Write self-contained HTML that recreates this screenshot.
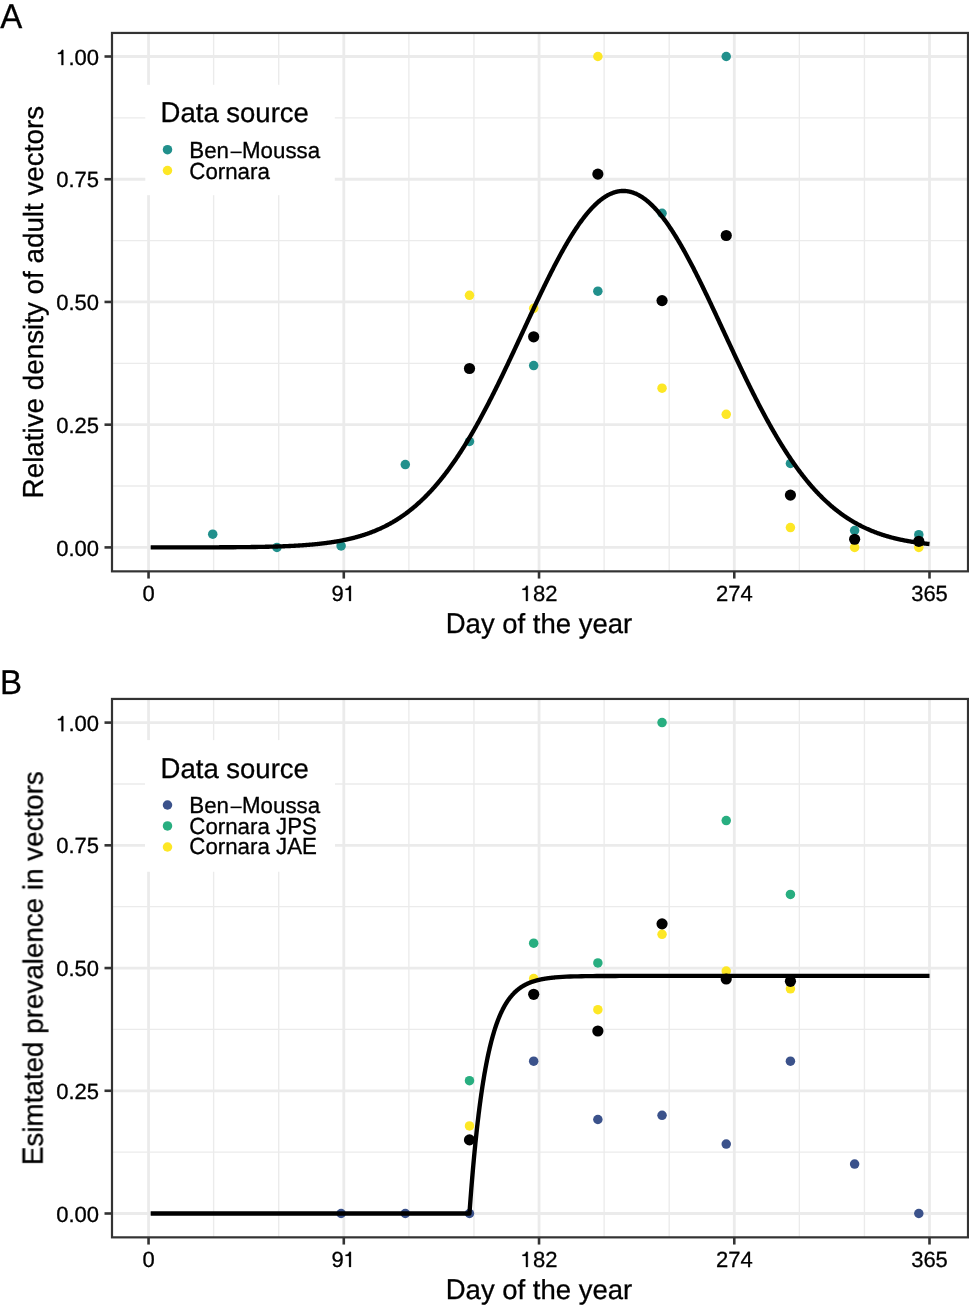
<!DOCTYPE html>
<html><head><meta charset="utf-8"><style>
html,body{margin:0;padding:0;background:#fff;}
svg{display:block;}
text{font-family:"Liberation Sans", sans-serif;fill:#000;text-rendering:geometricPrecision;font-kerning:none;stroke:#000;stroke-width:0.3px;}
</style></head><body>
<svg width="969" height="1312" viewBox="0 0 969 1312">
<defs><filter id="gs" x="0" y="0" width="969" height="1312" filterUnits="userSpaceOnUse"><feOffset dx="0" dy="0"/></filter></defs>
<rect width="969" height="1312" fill="#fff"/>
<g>
<line x1="213.63" y1="32.95" x2="213.63" y2="571.35" stroke="#ebebeb" stroke-width="1.35"/>
<line x1="278.71" y1="32.95" x2="278.71" y2="571.35" stroke="#ebebeb" stroke-width="1.35"/>
<line x1="408.87" y1="32.95" x2="408.87" y2="571.35" stroke="#ebebeb" stroke-width="1.35"/>
<line x1="473.95" y1="32.95" x2="473.95" y2="571.35" stroke="#ebebeb" stroke-width="1.35"/>
<line x1="604.11" y1="32.95" x2="604.11" y2="571.35" stroke="#ebebeb" stroke-width="1.35"/>
<line x1="669.19" y1="32.95" x2="669.19" y2="571.35" stroke="#ebebeb" stroke-width="1.35"/>
<line x1="799.35" y1="32.95" x2="799.35" y2="571.35" stroke="#ebebeb" stroke-width="1.35"/>
<line x1="864.42" y1="32.95" x2="864.42" y2="571.35" stroke="#ebebeb" stroke-width="1.35"/>
<line x1="112.0" y1="486.04" x2="968.0" y2="486.04" stroke="#ebebeb" stroke-width="1.35"/>
<line x1="112.0" y1="363.31" x2="968.0" y2="363.31" stroke="#ebebeb" stroke-width="1.35"/>
<line x1="112.0" y1="240.59" x2="968.0" y2="240.59" stroke="#ebebeb" stroke-width="1.35"/>
<line x1="112.0" y1="117.86" x2="968.0" y2="117.86" stroke="#ebebeb" stroke-width="1.35"/>
<line x1="148.55" y1="32.95" x2="148.55" y2="571.35" stroke="#ebebeb" stroke-width="2.8"/>
<line x1="343.79" y1="32.95" x2="343.79" y2="571.35" stroke="#ebebeb" stroke-width="2.8"/>
<line x1="539.03" y1="32.95" x2="539.03" y2="571.35" stroke="#ebebeb" stroke-width="2.8"/>
<line x1="734.27" y1="32.95" x2="734.27" y2="571.35" stroke="#ebebeb" stroke-width="2.8"/>
<line x1="929.50" y1="32.95" x2="929.50" y2="571.35" stroke="#ebebeb" stroke-width="2.8"/>
<line x1="112.0" y1="547.40" x2="968.0" y2="547.40" stroke="#ebebeb" stroke-width="2.8"/>
<line x1="112.0" y1="424.67" x2="968.0" y2="424.67" stroke="#ebebeb" stroke-width="2.8"/>
<line x1="112.0" y1="301.95" x2="968.0" y2="301.95" stroke="#ebebeb" stroke-width="2.8"/>
<line x1="112.0" y1="179.23" x2="968.0" y2="179.23" stroke="#ebebeb" stroke-width="2.8"/>
<line x1="112.0" y1="56.50" x2="968.0" y2="56.50" stroke="#ebebeb" stroke-width="2.8"/>
<circle cx="212.74" cy="534.15" r="4.75" fill="#21908c"/>
<circle cx="276.93" cy="547.40" r="4.75" fill="#21908c"/>
<circle cx="341.11" cy="545.93" r="4.75" fill="#21908c"/>
<circle cx="405.30" cy="464.59" r="4.75" fill="#21908c"/>
<circle cx="469.49" cy="441.51" r="4.75" fill="#21908c"/>
<circle cx="533.68" cy="365.52" r="4.75" fill="#21908c"/>
<circle cx="597.87" cy="291.20" r="4.75" fill="#21908c"/>
<circle cx="662.05" cy="213.29" r="4.75" fill="#21908c"/>
<circle cx="726.24" cy="56.50" r="4.75" fill="#21908c"/>
<circle cx="790.43" cy="463.51" r="4.75" fill="#21908c"/>
<circle cx="854.62" cy="530.51" r="4.75" fill="#21908c"/>
<circle cx="918.81" cy="534.64" r="4.75" fill="#21908c"/>
<circle cx="469.49" cy="295.32" r="4.75" fill="#fde725"/>
<circle cx="533.68" cy="308.33" r="4.75" fill="#fde725"/>
<circle cx="597.87" cy="56.50" r="4.75" fill="#fde725"/>
<circle cx="662.05" cy="388.20" r="4.75" fill="#fde725"/>
<circle cx="726.24" cy="414.32" r="4.75" fill="#fde725"/>
<circle cx="790.43" cy="527.52" r="4.75" fill="#fde725"/>
<circle cx="854.62" cy="547.40" r="4.75" fill="#fde725"/>
<circle cx="918.81" cy="547.40" r="4.75" fill="#fde725"/>
<path d="M150.69,547.39 L151.22,547.39 L151.76,547.39 L152.29,547.39 L152.82,547.39 L153.36,547.39 L153.89,547.39 L154.42,547.39 L154.96,547.39 L155.49,547.39 L156.02,547.39 L156.56,547.39 L157.09,547.39 L157.62,547.39 L158.16,547.39 L158.69,547.39 L159.22,547.39 L159.76,547.39 L160.29,547.39 L160.82,547.39 L161.36,547.39 L161.89,547.39 L162.43,547.39 L162.96,547.39 L163.49,547.39 L164.03,547.39 L164.56,547.39 L165.09,547.39 L165.63,547.39 L166.16,547.39 L166.69,547.39 L167.23,547.39 L167.76,547.39 L168.29,547.39 L168.83,547.39 L169.36,547.39 L169.89,547.39 L170.43,547.39 L170.96,547.39 L171.49,547.39 L172.03,547.39 L172.56,547.39 L173.09,547.39 L173.63,547.38 L174.16,547.38 L174.69,547.38 L175.23,547.38 L175.76,547.38 L176.29,547.38 L176.83,547.38 L177.36,547.38 L177.89,547.38 L178.43,547.38 L178.96,547.38 L179.50,547.38 L180.03,547.38 L180.56,547.38 L181.10,547.38 L181.63,547.38 L182.16,547.38 L182.70,547.38 L183.23,547.38 L183.76,547.38 L184.30,547.38 L184.83,547.38 L185.36,547.37 L185.90,547.37 L186.43,547.37 L186.96,547.37 L187.50,547.37 L188.03,547.37 L188.56,547.37 L189.10,547.37 L189.63,547.37 L190.16,547.37 L190.70,547.37 L191.23,547.37 L191.76,547.37 L192.30,547.37 L192.83,547.36 L193.36,547.36 L193.90,547.36 L194.43,547.36 L194.96,547.36 L195.50,547.36 L196.03,547.36 L196.56,547.36 L197.10,547.36 L197.63,547.36 L198.17,547.36 L198.70,547.35 L199.23,547.35 L199.77,547.35 L200.30,547.35 L200.83,547.35 L201.37,547.35 L201.90,547.35 L202.43,547.35 L202.97,547.35 L203.50,547.34 L204.03,547.34 L204.57,547.34 L205.10,547.34 L205.63,547.34 L206.17,547.34 L206.70,547.34 L207.23,547.34 L207.77,547.33 L208.30,547.33 L208.83,547.33 L209.37,547.33 L209.90,547.33 L210.43,547.33 L210.97,547.32 L211.50,547.32 L212.03,547.32 L212.57,547.32 L213.10,547.32 L213.63,547.32 L214.17,547.31 L214.70,547.31 L215.24,547.31 L215.77,547.31 L216.30,547.31 L216.84,547.30 L217.37,547.30 L217.90,547.30 L218.44,547.30 L218.97,547.30 L219.50,547.29 L220.04,547.29 L220.57,547.29 L221.10,547.29 L221.64,547.28 L222.17,547.28 L222.70,547.28 L223.24,547.28 L223.77,547.27 L224.30,547.27 L224.84,547.27 L225.37,547.27 L225.90,547.26 L226.44,547.26 L226.97,547.26 L227.50,547.25 L228.04,547.25 L228.57,547.25 L229.10,547.24 L229.64,547.24 L230.17,547.24 L230.70,547.23 L231.24,547.23 L231.77,547.23 L232.31,547.22 L232.84,547.22 L233.37,547.22 L233.91,547.21 L234.44,547.21 L234.97,547.20 L235.51,547.20 L236.04,547.20 L236.57,547.19 L237.11,547.19 L237.64,547.18 L238.17,547.18 L238.71,547.17 L239.24,547.17 L239.77,547.16 L240.31,547.16 L240.84,547.15 L241.37,547.15 L241.91,547.14 L242.44,547.14 L242.97,547.13 L243.51,547.13 L244.04,547.12 L244.57,547.12 L245.11,547.11 L245.64,547.11 L246.17,547.10 L246.71,547.09 L247.24,547.09 L247.77,547.08 L248.31,547.07 L248.84,547.07 L249.37,547.06 L249.91,547.05 L250.44,547.05 L250.98,547.04 L251.51,547.03 L252.04,547.03 L252.58,547.02 L253.11,547.01 L253.64,547.00 L254.18,547.00 L254.71,546.99 L255.24,546.98 L255.78,546.97 L256.31,546.96 L256.84,546.95 L257.38,546.95 L257.91,546.94 L258.44,546.93 L258.98,546.92 L259.51,546.91 L260.04,546.90 L260.58,546.89 L261.11,546.88 L261.64,546.87 L262.18,546.86 L262.71,546.85 L263.24,546.84 L263.78,546.83 L264.31,546.82 L264.84,546.80 L265.38,546.79 L265.91,546.78 L266.44,546.77 L266.98,546.76 L267.51,546.75 L268.05,546.73 L268.58,546.72 L269.11,546.71 L269.65,546.69 L270.18,546.68 L270.71,546.67 L271.25,546.65 L271.78,546.64 L272.31,546.62 L272.85,546.61 L273.38,546.60 L273.91,546.58 L274.45,546.57 L274.98,546.55 L275.51,546.53 L276.05,546.52 L276.58,546.50 L277.11,546.48 L277.65,546.47 L278.18,546.45 L278.71,546.43 L279.25,546.41 L279.78,546.40 L280.31,546.38 L280.85,546.36 L281.38,546.34 L281.91,546.32 L282.45,546.30 L282.98,546.28 L283.51,546.26 L284.05,546.24 L284.58,546.22 L285.12,546.20 L285.65,546.18 L286.18,546.15 L286.72,546.13 L287.25,546.11 L287.78,546.09 L288.32,546.06 L288.85,546.04 L289.38,546.01 L289.92,545.99 L290.45,545.96 L290.98,545.94 L291.52,545.91 L292.05,545.89 L292.58,545.86 L293.12,545.83 L293.65,545.80 L294.18,545.78 L294.72,545.75 L295.25,545.72 L295.78,545.69 L296.32,545.66 L296.85,545.63 L297.38,545.60 L297.92,545.57 L298.45,545.53 L298.98,545.50 L299.52,545.47 L300.05,545.43 L300.58,545.40 L301.12,545.37 L301.65,545.33 L302.19,545.30 L302.72,545.26 L303.25,545.22 L303.79,545.18 L304.32,545.15 L304.85,545.11 L305.39,545.07 L305.92,545.03 L306.45,544.99 L306.99,544.95 L307.52,544.91 L308.05,544.87 L308.59,544.82 L309.12,544.78 L309.65,544.74 L310.19,544.69 L310.72,544.65 L311.25,544.60 L311.79,544.55 L312.32,544.50 L312.85,544.46 L313.39,544.41 L313.92,544.36 L314.45,544.31 L314.99,544.26 L315.52,544.20 L316.05,544.15 L316.59,544.10 L317.12,544.04 L317.65,543.99 L318.19,543.93 L318.72,543.88 L319.25,543.82 L319.79,543.76 L320.32,543.70 L320.86,543.64 L321.39,543.58 L321.92,543.52 L322.46,543.46 L322.99,543.39 L323.52,543.33 L324.06,543.27 L324.59,543.20 L325.12,543.13 L325.66,543.06 L326.19,542.99 L326.72,542.92 L327.26,542.85 L327.79,542.78 L328.32,542.71 L328.86,542.64 L329.39,542.56 L329.92,542.48 L330.46,542.41 L330.99,542.33 L331.52,542.25 L332.06,542.17 L332.59,542.09 L333.12,542.01 L333.66,541.92 L334.19,541.84 L334.72,541.75 L335.26,541.66 L335.79,541.58 L336.32,541.49 L336.86,541.39 L337.39,541.30 L337.93,541.21 L338.46,541.12 L338.99,541.02 L339.53,540.92 L340.06,540.82 L340.59,540.73 L341.13,540.62 L341.66,540.52 L342.19,540.42 L342.73,540.31 L343.26,540.21 L343.79,540.10 L344.33,539.99 L344.86,539.88 L345.39,539.77 L345.93,539.66 L346.46,539.54 L346.99,539.42 L347.53,539.31 L348.06,539.19 L348.59,539.07 L349.13,538.94 L349.66,538.82 L350.19,538.69 L350.73,538.57 L351.26,538.44 L351.79,538.31 L352.33,538.18 L352.86,538.04 L353.39,537.91 L353.93,537.77 L354.46,537.63 L355.00,537.49 L355.53,537.35 L356.06,537.21 L356.60,537.06 L357.13,536.91 L357.66,536.76 L358.20,536.61 L358.73,536.46 L359.26,536.31 L359.80,536.15 L360.33,535.99 L360.86,535.83 L361.40,535.67 L361.93,535.51 L362.46,535.34 L363.00,535.17 L363.53,535.00 L364.06,534.83 L364.60,534.66 L365.13,534.48 L365.66,534.30 L366.20,534.12 L366.73,533.94 L367.26,533.75 L367.80,533.57 L368.33,533.38 L368.86,533.19 L369.40,532.99 L369.93,532.80 L370.46,532.60 L371.00,532.40 L371.53,532.20 L372.06,532.00 L372.60,531.79 L373.13,531.58 L373.67,531.37 L374.20,531.16 L374.73,530.94 L375.27,530.72 L375.80,530.50 L376.33,530.28 L376.87,530.05 L377.40,529.82 L377.93,529.59 L378.47,529.36 L379.00,529.12 L379.53,528.88 L380.07,528.64 L380.60,528.40 L381.13,528.15 L381.67,527.90 L382.20,527.65 L382.73,527.40 L383.27,527.14 L383.80,526.88 L384.33,526.62 L384.87,526.36 L385.40,526.09 L385.93,525.82 L386.47,525.54 L387.00,525.27 L387.53,524.99 L388.07,524.71 L388.60,524.42 L389.13,524.13 L389.67,523.84 L390.20,523.55 L390.74,523.25 L391.27,522.95 L391.80,522.65 L392.34,522.34 L392.87,522.04 L393.40,521.72 L393.94,521.41 L394.47,521.09 L395.00,520.77 L395.54,520.45 L396.07,520.12 L396.60,519.79 L397.14,519.45 L397.67,519.12 L398.20,518.78 L398.74,518.43 L399.27,518.08 L399.80,517.73 L400.34,517.38 L400.87,517.02 L401.40,516.66 L401.94,516.30 L402.47,515.93 L403.00,515.56 L403.54,515.19 L404.07,514.81 L404.60,514.43 L405.14,514.04 L405.67,513.66 L406.20,513.26 L406.74,512.87 L407.27,512.47 L407.81,512.07 L408.34,511.66 L408.87,511.25 L409.41,510.84 L409.94,510.42 L410.47,510.00 L411.01,509.58 L411.54,509.15 L412.07,508.72 L412.61,508.28 L413.14,507.84 L413.67,507.40 L414.21,506.95 L414.74,506.50 L415.27,506.04 L415.81,505.59 L416.34,505.12 L416.87,504.66 L417.41,504.19 L417.94,503.71 L418.47,503.23 L419.01,502.75 L419.54,502.26 L420.07,501.77 L420.61,501.28 L421.14,500.78 L421.67,500.28 L422.21,499.77 L422.74,499.26 L423.27,498.75 L423.81,498.23 L424.34,497.71 L424.87,497.18 L425.41,496.65 L425.94,496.11 L426.48,495.57 L427.01,495.03 L427.54,494.48 L428.08,493.93 L428.61,493.37 L429.14,492.81 L429.68,492.25 L430.21,491.68 L430.74,491.10 L431.28,490.53 L431.81,489.94 L432.34,489.36 L432.88,488.77 L433.41,488.17 L433.94,487.57 L434.48,486.97 L435.01,486.36 L435.54,485.75 L436.08,485.13 L436.61,484.51 L437.14,483.89 L437.68,483.26 L438.21,482.62 L438.74,481.98 L439.28,481.34 L439.81,480.69 L440.34,480.04 L440.88,479.38 L441.41,478.72 L441.94,478.06 L442.48,477.39 L443.01,476.71 L443.55,476.03 L444.08,475.35 L444.61,474.66 L445.15,473.97 L445.68,473.27 L446.21,472.57 L446.75,471.87 L447.28,471.16 L447.81,470.44 L448.35,469.72 L448.88,469.00 L449.41,468.27 L449.95,467.54 L450.48,466.80 L451.01,466.06 L451.55,465.31 L452.08,464.56 L452.61,463.80 L453.15,463.04 L453.68,462.28 L454.21,461.51 L454.75,460.74 L455.28,459.96 L455.81,459.18 L456.35,458.39 L456.88,457.60 L457.41,456.80 L457.95,456.00 L458.48,455.20 L459.01,454.39 L459.55,453.58 L460.08,452.76 L460.62,451.94 L461.15,451.11 L461.68,450.28 L462.22,449.44 L462.75,448.60 L463.28,447.76 L463.82,446.91 L464.35,446.06 L464.88,445.20 L465.42,444.34 L465.95,443.47 L466.48,442.60 L467.02,441.73 L467.55,440.85 L468.08,439.96 L468.62,439.08 L469.15,438.18 L469.68,437.29 L470.22,436.39 L470.75,435.48 L471.28,434.57 L471.82,433.66 L472.35,432.74 L472.88,431.82 L473.42,430.90 L473.95,429.97 L474.48,429.04 L475.02,428.10 L475.55,427.16 L476.08,426.21 L476.62,425.26 L477.15,424.31 L477.68,423.35 L478.22,422.39 L478.75,421.43 L479.29,420.46 L479.82,419.48 L480.35,418.51 L480.89,417.53 L481.42,416.54 L481.95,415.56 L482.49,414.57 L483.02,413.57 L483.55,412.57 L484.09,411.57 L484.62,410.56 L485.15,409.55 L485.69,408.54 L486.22,407.52 L486.75,406.50 L487.29,405.48 L487.82,404.45 L488.35,403.42 L488.89,402.39 L489.42,401.35 L489.95,400.32 L490.49,399.27 L491.02,398.23 L491.55,397.18 L492.09,396.12 L492.62,395.07 L493.15,394.01 L493.69,392.95 L494.22,391.88 L494.75,390.82 L495.29,389.75 L495.82,388.67 L496.36,387.60 L496.89,386.52 L497.42,385.44 L497.96,384.35 L498.49,383.27 L499.02,382.18 L499.56,381.09 L500.09,379.99 L500.62,378.90 L501.16,377.80 L501.69,376.70 L502.22,375.59 L502.76,374.49 L503.29,373.38 L503.82,372.27 L504.36,371.16 L504.89,370.04 L505.42,368.93 L505.96,367.81 L506.49,366.69 L507.02,365.57 L507.56,364.44 L508.09,363.32 L508.62,362.19 L509.16,361.06 L509.69,359.93 L510.22,358.80 L510.76,357.67 L511.29,356.53 L511.82,355.40 L512.36,354.26 L512.89,353.12 L513.43,351.98 L513.96,350.84 L514.49,349.70 L515.03,348.56 L515.56,347.41 L516.09,346.27 L516.63,345.12 L517.16,343.98 L517.69,342.83 L518.23,341.68 L518.76,340.53 L519.29,339.39 L519.83,338.24 L520.36,337.09 L520.89,335.94 L521.43,334.79 L521.96,333.64 L522.49,332.49 L523.03,331.34 L523.56,330.19 L524.09,329.04 L524.63,327.89 L525.16,326.73 L525.69,325.59 L526.23,324.44 L526.76,323.29 L527.29,322.14 L527.83,320.99 L528.36,319.84 L528.89,318.70 L529.43,317.55 L529.96,316.40 L530.49,315.26 L531.03,314.12 L531.56,312.97 L532.10,311.83 L532.63,310.69 L533.16,309.55 L533.70,308.41 L534.23,307.28 L534.76,306.14 L535.30,305.01 L535.83,303.88 L536.36,302.75 L536.90,301.62 L537.43,300.49 L537.96,299.37 L538.50,298.24 L539.03,297.12 L539.56,296.00 L540.10,294.89 L540.63,293.77 L541.16,292.66 L541.70,291.55 L542.23,290.44 L542.76,289.34 L543.30,288.23 L543.83,287.13 L544.36,286.04 L544.90,284.94 L545.43,283.85 L545.96,282.76 L546.50,281.68 L547.03,280.60 L547.56,279.52 L548.10,278.44 L548.63,277.37 L549.17,276.30 L549.70,275.23 L550.23,274.17 L550.77,273.11 L551.30,272.06 L551.83,271.01 L552.37,269.96 L552.90,268.92 L553.43,267.88 L553.97,266.84 L554.50,265.81 L555.03,264.79 L555.57,263.76 L556.10,262.74 L556.63,261.73 L557.17,260.72 L557.70,259.72 L558.23,258.72 L558.77,257.72 L559.30,256.73 L559.83,255.75 L560.37,254.77 L560.90,253.79 L561.43,252.82 L561.97,251.85 L562.50,250.89 L563.03,249.94 L563.57,248.99 L564.10,248.05 L564.63,247.11 L565.17,246.17 L565.70,245.25 L566.24,244.33 L566.77,243.41 L567.30,242.50 L567.84,241.60 L568.37,240.70 L568.90,239.81 L569.44,238.92 L569.97,238.04 L570.50,237.17 L571.04,236.30 L571.57,235.44 L572.10,234.59 L572.64,233.74 L573.17,232.90 L573.70,232.07 L574.24,231.24 L574.77,230.42 L575.30,229.60 L575.84,228.80 L576.37,228.00 L576.90,227.20 L577.44,226.42 L577.97,225.64 L578.50,224.87 L579.04,224.11 L579.57,223.35 L580.10,222.60 L580.64,221.86 L581.17,221.12 L581.70,220.40 L582.24,219.68 L582.77,218.97 L583.30,218.27 L583.84,217.57 L584.37,216.88 L584.91,216.20 L585.44,215.53 L585.97,214.87 L586.51,214.21 L587.04,213.57 L587.57,212.93 L588.11,212.30 L588.64,211.67 L589.17,211.06 L589.71,210.45 L590.24,209.86 L590.77,209.27 L591.31,208.69 L591.84,208.12 L592.37,207.55 L592.91,207.00 L593.44,206.45 L593.97,205.92 L594.51,205.39 L595.04,204.87 L595.57,204.36 L596.11,203.86 L596.64,203.37 L597.17,202.88 L597.71,202.41 L598.24,201.95 L598.77,201.49 L599.31,201.04 L599.84,200.61 L600.37,200.18 L600.91,199.76 L601.44,199.35 L601.98,198.95 L602.51,198.56 L603.04,198.18 L603.58,197.81 L604.11,197.45 L604.64,197.10 L605.18,196.75 L605.71,196.42 L606.24,196.10 L606.78,195.78 L607.31,195.48 L607.84,195.18 L608.38,194.90 L608.91,194.63 L609.44,194.36 L609.98,194.10 L610.51,193.86 L611.04,193.62 L611.58,193.40 L612.11,193.18 L612.64,192.98 L613.18,192.78 L613.71,192.59 L614.24,192.42 L614.78,192.25 L615.31,192.10 L615.84,191.95 L616.38,191.81 L616.91,191.69 L617.44,191.57 L617.98,191.46 L618.51,191.37 L619.05,191.28 L619.58,191.21 L620.11,191.14 L620.65,191.09 L621.18,191.04 L621.71,191.00 L622.25,190.98 L622.78,190.96 L623.31,190.96 L623.85,190.96 L624.38,190.98 L624.91,191.00 L625.45,191.04 L625.98,191.08 L626.51,191.14 L627.05,191.20 L627.58,191.28 L628.11,191.36 L628.65,191.46 L629.18,191.56 L629.71,191.68 L630.25,191.81 L630.78,191.94 L631.31,192.09 L631.85,192.24 L632.38,192.41 L632.91,192.58 L633.45,192.77 L633.98,192.97 L634.51,193.17 L635.05,193.39 L635.58,193.61 L636.12,193.85 L636.65,194.09 L637.18,194.35 L637.72,194.61 L638.25,194.88 L638.78,195.17 L639.32,195.46 L639.85,195.77 L640.38,196.08 L640.92,196.40 L641.45,196.74 L641.98,197.08 L642.52,197.43 L643.05,197.79 L643.58,198.16 L644.12,198.54 L644.65,198.93 L645.18,199.33 L645.72,199.74 L646.25,200.16 L646.78,200.58 L647.32,201.02 L647.85,201.47 L648.38,201.92 L648.92,202.39 L649.45,202.86 L649.98,203.34 L650.52,203.83 L651.05,204.33 L651.58,204.84 L652.12,205.36 L652.65,205.89 L653.18,206.42 L653.72,206.97 L654.25,207.52 L654.79,208.08 L655.32,208.66 L655.85,209.24 L656.39,209.82 L656.92,210.42 L657.45,211.03 L657.99,211.64 L658.52,212.26 L659.05,212.89 L659.59,213.53 L660.12,214.18 L660.65,214.83 L661.19,215.49 L661.72,216.17 L662.25,216.84 L662.79,217.53 L663.32,218.23 L663.85,218.93 L664.39,219.64 L664.92,220.36 L665.45,221.08 L665.99,221.82 L666.52,222.56 L667.05,223.31 L667.59,224.06 L668.12,224.83 L668.65,225.60 L669.19,226.38 L669.72,227.16 L670.25,227.95 L670.79,228.75 L671.32,229.56 L671.86,230.37 L672.39,231.19 L672.92,232.02 L673.46,232.85 L673.99,233.69 L674.52,234.54 L675.06,235.39 L675.59,236.25 L676.12,237.12 L676.66,237.99 L677.19,238.87 L677.72,239.76 L678.26,240.65 L678.79,241.55 L679.32,242.45 L679.86,243.36 L680.39,244.28 L680.92,245.20 L681.46,246.12 L681.99,247.06 L682.52,247.99 L683.06,248.94 L683.59,249.89 L684.12,250.84 L684.66,251.80 L685.19,252.77 L685.72,253.74 L686.26,254.71 L686.79,255.69 L687.32,256.68 L687.86,257.67 L688.39,258.66 L688.93,259.66 L689.46,260.67 L689.99,261.68 L690.53,262.69 L691.06,263.71 L691.59,264.73 L692.13,265.76 L692.66,266.79 L693.19,267.82 L693.73,268.86 L694.26,269.90 L694.79,270.95 L695.33,272.00 L695.86,273.06 L696.39,274.11 L696.93,275.18 L697.46,276.24 L697.99,277.31 L698.53,278.38 L699.06,279.46 L699.59,280.54 L700.13,281.62 L700.66,282.70 L701.19,283.79 L701.73,284.88 L702.26,285.98 L702.79,287.07 L703.33,288.17 L703.86,289.28 L704.39,290.38 L704.93,291.49 L705.46,292.60 L705.99,293.71 L706.53,294.82 L707.06,295.94 L707.60,297.06 L708.13,298.18 L708.66,299.30 L709.20,300.43 L709.73,301.56 L710.26,302.68 L710.80,303.81 L711.33,304.95 L711.86,306.08 L712.40,307.22 L712.93,308.35 L713.46,309.49 L714.00,310.63 L714.53,311.77 L715.06,312.91 L715.60,314.05 L716.13,315.20 L716.66,316.34 L717.20,317.49 L717.73,318.63 L718.26,319.78 L718.80,320.93 L719.33,322.07 L719.86,323.22 L720.40,324.37 L720.93,325.52 L721.46,326.67 L722.00,327.82 L722.53,328.97 L723.06,330.12 L723.60,331.27 L724.13,332.42 L724.67,333.57 L725.20,334.72 L725.73,335.87 L726.27,337.02 L726.80,338.17 L727.33,339.32 L727.87,340.47 L728.40,341.62 L728.93,342.77 L729.47,343.91 L730.00,345.06 L730.53,346.21 L731.07,347.35 L731.60,348.49 L732.13,349.64 L732.67,350.78 L733.20,351.92 L733.73,353.06 L734.27,354.20 L734.80,355.33 L735.33,356.47 L735.87,357.61 L736.40,358.74 L736.93,359.87 L737.47,361.00 L738.00,362.13 L738.53,363.26 L739.07,364.38 L739.60,365.51 L740.13,366.63 L740.67,367.75 L741.20,368.87 L741.74,369.98 L742.27,371.10 L742.80,372.21 L743.34,373.32 L743.87,374.43 L744.40,375.53 L744.94,376.64 L745.47,377.74 L746.00,378.84 L746.54,379.93 L747.07,381.03 L747.60,382.12 L748.14,383.21 L748.67,384.29 L749.20,385.38 L749.74,386.46 L750.27,387.54 L750.80,388.61 L751.34,389.69 L751.87,390.76 L752.40,391.83 L752.94,392.89 L753.47,393.95 L754.00,395.01 L754.54,396.07 L755.07,397.12 L755.60,398.17 L756.14,399.21 L756.67,400.26 L757.20,401.30 L757.74,402.33 L758.27,403.37 L758.80,404.40 L759.34,405.43 L759.87,406.45 L760.41,407.47 L760.94,408.49 L761.47,409.50 L762.01,410.51 L762.54,411.51 L763.07,412.52 L763.61,413.52 L764.14,414.51 L764.67,415.50 L765.21,416.49 L765.74,417.47 L766.27,418.45 L766.81,419.43 L767.34,420.40 L767.87,421.37 L768.41,422.34 L768.94,423.30 L769.47,424.26 L770.01,425.21 L770.54,426.16 L771.07,427.11 L771.61,428.05 L772.14,428.98 L772.67,429.92 L773.21,430.85 L773.74,431.77 L774.27,432.69 L774.81,433.61 L775.34,434.52 L775.87,435.43 L776.41,436.34 L776.94,437.24 L777.48,438.13 L778.01,439.03 L778.54,439.91 L779.08,440.80 L779.61,441.68 L780.14,442.55 L780.68,443.42 L781.21,444.29 L781.74,445.15 L782.28,446.01 L782.81,446.86 L783.34,447.71 L783.88,448.56 L784.41,449.40 L784.94,450.23 L785.48,451.06 L786.01,451.89 L786.54,452.71 L787.08,453.53 L787.61,454.35 L788.14,455.15 L788.68,455.96 L789.21,456.76 L789.74,457.56 L790.28,458.35 L790.81,459.13 L791.34,459.92 L791.88,460.70 L792.41,461.47 L792.94,462.24 L793.48,463.00 L794.01,463.76 L794.55,464.52 L795.08,465.27 L795.61,466.02 L796.15,466.76 L796.68,467.50 L797.21,468.23 L797.75,468.96 L798.28,469.68 L798.81,470.40 L799.35,471.12 L799.88,471.83 L800.41,472.53 L800.95,473.23 L801.48,473.93 L802.01,474.62 L802.55,475.31 L803.08,476.00 L803.61,476.68 L804.15,477.35 L804.68,478.02 L805.21,478.69 L805.75,479.35 L806.28,480.00 L806.81,480.66 L807.35,481.30 L807.88,481.95 L808.41,482.59 L808.95,483.22 L809.48,483.85 L810.01,484.48 L810.55,485.10 L811.08,485.72 L811.61,486.33 L812.15,486.94 L812.68,487.54 L813.22,488.14 L813.75,488.74 L814.28,489.33 L814.82,489.91 L815.35,490.50 L815.88,491.07 L816.42,491.65 L816.95,492.22 L817.48,492.78 L818.02,493.34 L818.55,493.90 L819.08,494.45 L819.62,495.00 L820.15,495.54 L820.68,496.08 L821.22,496.62 L821.75,497.15 L822.28,497.68 L822.82,498.20 L823.35,498.72 L823.88,499.23 L824.42,499.74 L824.95,500.25 L825.48,500.75 L826.02,501.25 L826.55,501.75 L827.08,502.24 L827.62,502.72 L828.15,503.21 L828.68,503.69 L829.22,504.16 L829.75,504.63 L830.29,505.10 L830.82,505.56 L831.35,506.02 L831.89,506.47 L832.42,506.93 L832.95,507.37 L833.49,507.82 L834.02,508.26 L834.55,508.69 L835.09,509.12 L835.62,509.55 L836.15,509.98 L836.69,510.40 L837.22,510.82 L837.75,511.23 L838.29,511.64 L838.82,512.05 L839.35,512.45 L839.89,512.85 L840.42,513.24 L840.95,513.63 L841.49,514.02 L842.02,514.41 L842.55,514.79 L843.09,515.17 L843.62,515.54 L844.15,515.91 L844.69,516.28 L845.22,516.64 L845.75,517.00 L846.29,517.36 L846.82,517.71 L847.36,518.07 L847.89,518.41 L848.42,518.76 L848.96,519.10 L849.49,519.43 L850.02,519.77 L850.56,520.10 L851.09,520.43 L851.62,520.75 L852.16,521.07 L852.69,521.39 L853.22,521.71 L853.76,522.02 L854.29,522.33 L854.82,522.63 L855.36,522.94 L855.89,523.24 L856.42,523.53 L856.96,523.83 L857.49,524.12 L858.02,524.41 L858.56,524.69 L859.09,524.97 L859.62,525.25 L860.16,525.53 L860.69,525.80 L861.22,526.07 L861.76,526.34 L862.29,526.61 L862.82,526.87 L863.36,527.13 L863.89,527.39 L864.42,527.64 L864.96,527.89 L865.49,528.14 L866.03,528.39 L866.56,528.63 L867.09,528.87 L867.63,529.11 L868.16,529.35 L868.69,529.58 L869.23,529.81 L869.76,530.04 L870.29,530.26 L870.83,530.49 L871.36,530.71 L871.89,530.93 L872.43,531.14 L872.96,531.36 L873.49,531.57 L874.03,531.78 L874.56,531.98 L875.09,532.19 L875.63,532.39 L876.16,532.59 L876.69,532.79 L877.23,532.98 L877.76,533.18 L878.29,533.37 L878.83,533.56 L879.36,533.74 L879.89,533.93 L880.43,534.11 L880.96,534.29 L881.49,534.47 L882.03,534.65 L882.56,534.82 L883.10,534.99 L883.63,535.16 L884.16,535.33 L884.70,535.50 L885.23,535.66 L885.76,535.82 L886.30,535.98 L886.83,536.14 L887.36,536.30 L887.90,536.45 L888.43,536.61 L888.96,536.76 L889.50,536.91 L890.03,537.05 L890.56,537.20 L891.10,537.34 L891.63,537.48 L892.16,537.63 L892.70,537.76 L893.23,537.90 L893.76,538.04 L894.30,538.17 L894.83,538.30 L895.36,538.43 L895.90,538.56 L896.43,538.69 L896.96,538.81 L897.50,538.94 L898.03,539.06 L898.56,539.18 L899.10,539.30 L899.63,539.42 L900.17,539.53 L900.70,539.65 L901.23,539.76 L901.77,539.87 L902.30,539.98 L902.83,540.09 L903.37,540.20 L903.90,540.31 L904.43,540.41 L904.97,540.52 L905.50,540.62 L906.03,540.72 L906.57,540.82 L907.10,540.92 L907.63,541.01 L908.17,541.11 L908.70,541.20 L909.23,541.30 L909.77,541.39 L910.30,541.48 L910.83,541.57 L911.37,541.66 L911.90,541.75 L912.43,541.83 L912.97,541.92 L913.50,542.00 L914.03,542.08 L914.57,542.16 L915.10,542.25 L915.63,542.32 L916.17,542.40 L916.70,542.48 L917.24,542.56 L917.77,542.63 L918.30,542.70 L918.84,542.78 L919.37,542.85 L919.90,542.92 L920.44,542.99 L920.97,543.06 L921.50,543.13 L922.04,543.20 L922.57,543.26 L923.10,543.33 L923.64,543.39 L924.17,543.45 L924.70,543.52 L925.24,543.58 L925.77,543.64 L926.30,543.70 L926.84,543.76 L927.37,543.82 L927.90,543.87 L928.44,543.93 L928.97,543.99 L929.50,544.04" fill="none" stroke="#000" stroke-width="4.35" stroke-linejoin="round" stroke-linecap="butt"/>
<circle cx="469.49" cy="368.52" r="5.6" fill="#000000"/>
<circle cx="533.68" cy="336.80" r="5.6" fill="#000000"/>
<circle cx="597.87" cy="174.12" r="5.6" fill="#000000"/>
<circle cx="662.05" cy="300.62" r="5.6" fill="#000000"/>
<circle cx="726.24" cy="235.48" r="5.6" fill="#000000"/>
<circle cx="790.43" cy="495.12" r="5.6" fill="#000000"/>
<circle cx="854.62" cy="539.25" r="5.6" fill="#000000"/>
<circle cx="918.81" cy="541.31" r="5.6" fill="#000000"/>
<rect x="145.3" y="84.8" width="189.50" height="110.40" fill="#fff"/>
<circle cx="167.5" cy="149.65" r="4.75" fill="#21908c"/>
<circle cx="167.5" cy="170.5" r="4.75" fill="#fde725"/>
<rect x="112.0" y="32.95" width="856.0" height="538.40" fill="none" stroke="#333333" stroke-width="2.2"/>
<line x1="104.5" y1="547.40" x2="112.0" y2="547.40" stroke="#333333" stroke-width="2.6"/>
<line x1="104.5" y1="424.67" x2="112.0" y2="424.67" stroke="#333333" stroke-width="2.6"/>
<line x1="104.5" y1="301.95" x2="112.0" y2="301.95" stroke="#333333" stroke-width="2.6"/>
<line x1="104.5" y1="179.23" x2="112.0" y2="179.23" stroke="#333333" stroke-width="2.6"/>
<line x1="104.5" y1="56.50" x2="112.0" y2="56.50" stroke="#333333" stroke-width="2.6"/>
<line x1="148.55" y1="571.35" x2="148.55" y2="578.55" stroke="#333333" stroke-width="2.6"/>
<line x1="343.79" y1="571.35" x2="343.79" y2="578.55" stroke="#333333" stroke-width="2.6"/>
<line x1="539.03" y1="571.35" x2="539.03" y2="578.55" stroke="#333333" stroke-width="2.6"/>
<line x1="734.27" y1="571.35" x2="734.27" y2="578.55" stroke="#333333" stroke-width="2.6"/>
<line x1="929.50" y1="571.35" x2="929.50" y2="578.55" stroke="#333333" stroke-width="2.6"/>
<line x1="213.63" y1="698.95" x2="213.63" y2="1237.35" stroke="#ebebeb" stroke-width="1.35"/>
<line x1="278.71" y1="698.95" x2="278.71" y2="1237.35" stroke="#ebebeb" stroke-width="1.35"/>
<line x1="408.87" y1="698.95" x2="408.87" y2="1237.35" stroke="#ebebeb" stroke-width="1.35"/>
<line x1="473.95" y1="698.95" x2="473.95" y2="1237.35" stroke="#ebebeb" stroke-width="1.35"/>
<line x1="604.11" y1="698.95" x2="604.11" y2="1237.35" stroke="#ebebeb" stroke-width="1.35"/>
<line x1="669.19" y1="698.95" x2="669.19" y2="1237.35" stroke="#ebebeb" stroke-width="1.35"/>
<line x1="799.35" y1="698.95" x2="799.35" y2="1237.35" stroke="#ebebeb" stroke-width="1.35"/>
<line x1="864.42" y1="698.95" x2="864.42" y2="1237.35" stroke="#ebebeb" stroke-width="1.35"/>
<line x1="112.0" y1="1152.14" x2="968.0" y2="1152.14" stroke="#ebebeb" stroke-width="1.35"/>
<line x1="112.0" y1="1029.41" x2="968.0" y2="1029.41" stroke="#ebebeb" stroke-width="1.35"/>
<line x1="112.0" y1="906.69" x2="968.0" y2="906.69" stroke="#ebebeb" stroke-width="1.35"/>
<line x1="112.0" y1="783.96" x2="968.0" y2="783.96" stroke="#ebebeb" stroke-width="1.35"/>
<line x1="148.55" y1="698.95" x2="148.55" y2="1237.35" stroke="#ebebeb" stroke-width="2.8"/>
<line x1="343.79" y1="698.95" x2="343.79" y2="1237.35" stroke="#ebebeb" stroke-width="2.8"/>
<line x1="539.03" y1="698.95" x2="539.03" y2="1237.35" stroke="#ebebeb" stroke-width="2.8"/>
<line x1="734.27" y1="698.95" x2="734.27" y2="1237.35" stroke="#ebebeb" stroke-width="2.8"/>
<line x1="929.50" y1="698.95" x2="929.50" y2="1237.35" stroke="#ebebeb" stroke-width="2.8"/>
<line x1="112.0" y1="1213.50" x2="968.0" y2="1213.50" stroke="#ebebeb" stroke-width="2.8"/>
<line x1="112.0" y1="1090.78" x2="968.0" y2="1090.78" stroke="#ebebeb" stroke-width="2.8"/>
<line x1="112.0" y1="968.05" x2="968.0" y2="968.05" stroke="#ebebeb" stroke-width="2.8"/>
<line x1="112.0" y1="845.33" x2="968.0" y2="845.33" stroke="#ebebeb" stroke-width="2.8"/>
<line x1="112.0" y1="722.60" x2="968.0" y2="722.60" stroke="#ebebeb" stroke-width="2.8"/>
<circle cx="341.11" cy="1213.50" r="4.75" fill="#3b528b"/>
<circle cx="405.30" cy="1213.50" r="4.75" fill="#3b528b"/>
<circle cx="469.49" cy="1213.50" r="4.75" fill="#3b528b"/>
<circle cx="533.68" cy="1061.22" r="4.75" fill="#3b528b"/>
<circle cx="597.87" cy="1119.49" r="4.75" fill="#3b528b"/>
<circle cx="662.05" cy="1115.32" r="4.75" fill="#3b528b"/>
<circle cx="726.24" cy="1144.09" r="4.75" fill="#3b528b"/>
<circle cx="790.43" cy="1061.22" r="4.75" fill="#3b528b"/>
<circle cx="854.62" cy="1164.12" r="4.75" fill="#3b528b"/>
<circle cx="918.81" cy="1213.50" r="4.75" fill="#3b528b"/>
<circle cx="469.49" cy="1080.71" r="4.75" fill="#28ae80"/>
<circle cx="533.68" cy="943.21" r="4.75" fill="#28ae80"/>
<circle cx="597.87" cy="962.90" r="4.75" fill="#28ae80"/>
<circle cx="662.05" cy="722.60" r="4.75" fill="#28ae80"/>
<circle cx="726.24" cy="820.58" r="4.75" fill="#28ae80"/>
<circle cx="790.43" cy="894.41" r="4.75" fill="#28ae80"/>
<circle cx="469.49" cy="1125.92" r="4.75" fill="#fde725"/>
<circle cx="533.68" cy="978.60" r="4.75" fill="#fde725"/>
<circle cx="597.87" cy="1009.68" r="4.75" fill="#fde725"/>
<circle cx="662.05" cy="934.33" r="4.75" fill="#fde725"/>
<circle cx="726.24" cy="971.09" r="4.75" fill="#fde725"/>
<circle cx="790.43" cy="988.82" r="4.75" fill="#fde725"/>
<path d="M150.69,1213.50 L469.45,1213.50 L469.67,1210.51 L469.88,1207.57 L470.10,1204.66 L470.31,1201.78 L470.53,1198.94 L470.74,1196.14 L470.96,1193.37 L471.17,1190.64 L471.38,1187.94 L471.60,1185.28 L471.81,1182.65 L472.03,1180.05 L472.24,1177.49 L472.46,1174.95 L472.67,1172.45 L472.89,1169.98 L473.10,1167.55 L473.32,1165.14 L473.53,1162.76 L473.75,1160.41 L473.96,1158.09 L474.17,1155.80 L474.39,1153.54 L474.60,1151.31 L474.82,1149.11 L475.03,1146.93 L475.25,1144.78 L475.46,1142.66 L475.68,1140.57 L475.89,1138.50 L476.11,1136.45 L476.32,1134.44 L476.54,1132.45 L476.75,1130.48 L476.96,1128.54 L477.18,1126.62 L477.39,1124.73 L477.61,1122.86 L477.82,1121.01 L478.04,1119.19 L478.25,1117.39 L478.47,1115.61 L478.68,1113.85 L478.90,1112.12 L479.11,1110.41 L479.32,1108.72 L479.54,1107.05 L479.75,1105.40 L479.97,1103.77 L480.18,1102.17 L480.40,1100.58 L480.61,1099.02 L480.83,1097.47 L481.04,1095.94 L481.26,1094.43 L481.47,1092.94 L481.69,1091.47 L481.90,1090.02 L482.11,1088.59 L482.33,1087.17 L482.54,1085.77 L482.76,1084.39 L482.97,1083.03 L483.19,1081.68 L483.40,1080.35 L483.62,1079.04 L483.83,1077.75 L484.05,1076.47 L484.26,1075.20 L484.47,1073.96 L484.69,1072.72 L484.90,1071.51 L485.12,1070.31 L485.33,1069.12 L485.55,1067.95 L485.76,1066.79 L485.98,1065.65 L486.19,1064.52 L486.41,1063.41 L486.62,1062.31 L486.84,1061.22 L487.05,1060.15 L487.26,1059.09 L487.48,1058.05 L487.69,1057.02 L487.91,1056.00 L488.12,1054.99 L488.34,1054.00 L488.55,1053.02 L488.77,1052.05 L488.98,1051.09 L489.20,1050.15 L489.41,1049.21 L489.62,1048.29 L489.84,1047.38 L490.05,1046.48 L490.27,1045.60 L490.48,1044.72 L490.70,1043.86 L490.91,1043.00 L491.13,1042.16 L491.34,1041.33 L491.56,1040.51 L491.77,1039.69 L491.99,1038.89 L492.20,1038.10 L492.41,1037.32 L492.63,1036.55 L492.84,1035.79 L493.06,1035.03 L493.27,1034.29 L493.49,1033.56 L493.70,1032.83 L493.92,1032.12 L494.13,1031.41 L494.35,1030.71 L494.56,1030.03 L494.77,1029.35 L494.99,1028.67 L495.20,1028.01 L495.42,1027.36 L495.63,1026.71 L495.85,1026.07 L496.06,1025.44 L496.28,1024.82 L496.49,1024.20 L496.71,1023.60 L496.92,1023.00 L497.14,1022.41 L497.35,1021.82 L497.56,1021.25 L497.78,1020.68 L497.99,1020.11 L498.21,1019.56 L498.42,1019.01 L498.64,1018.47 L498.85,1017.93 L499.07,1017.40 L499.28,1016.88 L499.50,1016.37 L499.71,1015.86 L499.93,1015.36 L500.14,1014.86 L500.35,1014.37 L500.57,1013.89 L500.78,1013.41 L501.00,1012.94 L501.21,1012.48 L501.43,1012.02 L501.64,1011.56 L501.86,1011.11 L502.07,1010.67 L502.29,1010.24 L502.50,1009.80 L502.71,1009.38 L502.93,1008.96 L503.14,1008.54 L503.36,1008.13 L503.57,1007.73 L503.79,1007.33 L504.00,1006.93 L504.22,1006.54 L504.43,1006.16 L504.65,1005.78 L504.86,1005.40 L505.08,1005.03 L505.29,1004.67 L505.50,1004.30 L505.72,1003.95 L505.93,1003.60 L506.15,1003.25 L506.36,1002.90 L506.58,1002.56 L506.79,1002.23 L507.01,1001.90 L507.22,1001.57 L507.44,1001.25 L507.65,1000.93 L507.86,1000.62 L508.08,1000.31 L508.29,1000.00 L508.51,999.70 L508.72,999.40 L508.94,999.10 L509.15,998.81 L509.37,998.52 L509.58,998.24 L509.80,997.96 L510.01,997.68 L510.23,997.41 L510.44,997.14 L510.65,996.87 L510.87,996.61 L511.08,996.35 L511.30,996.09 L511.51,995.84 L511.73,995.59 L511.94,995.34 L512.16,995.09 L512.37,994.85 L512.59,994.62 L512.80,994.38 L513.01,994.15 L513.23,993.92 L513.44,993.69 L513.66,993.47 L513.87,993.25 L514.09,993.03 L514.30,992.82 L514.52,992.60 L514.73,992.39 L514.95,992.19 L515.16,991.98 L515.38,991.78 L515.59,991.58 L515.80,991.38 L516.02,991.19 L516.23,991.00 L516.45,990.81 L516.66,990.62 L516.88,990.43 L517.09,990.25 L517.31,990.07 L517.52,989.89 L517.74,989.72 L517.95,989.54 L518.16,989.37 L518.38,989.20 L518.59,989.04 L518.81,988.87 L519.02,988.71 L519.24,988.55 L519.45,988.39 L519.67,988.23 L519.88,988.08 L520.10,987.92 L520.31,987.77 L520.53,987.62 L520.74,987.48 L520.95,987.33 L521.17,987.19 L521.38,987.05 L521.60,986.91 L521.81,986.77 L522.03,986.63 L522.24,986.50 L522.46,986.36 L522.67,986.23 L522.89,986.10 L523.10,985.97 L523.32,985.85 L523.53,985.72 L523.74,985.60 L523.96,985.48 L524.17,985.36 L524.39,985.24 L524.60,985.12 L524.82,985.01 L525.03,984.89 L525.25,984.78 L525.46,984.67 L525.68,984.56 L525.89,984.45 L526.10,984.34 L526.32,984.23 L526.53,984.13 L526.75,984.03 L526.96,983.92 L527.18,983.82 L527.39,983.72 L527.61,983.63 L527.82,983.53 L528.04,983.43 L528.25,983.34 L528.47,983.25 L528.68,983.15 L528.89,983.06 L529.11,982.97 L529.32,982.88 L529.54,982.80 L529.75,982.71 L529.97,982.62 L530.18,982.54 L530.40,982.46 L530.61,982.37 L530.83,982.29 L531.04,982.21 L531.25,982.13 L531.47,982.05 L531.68,981.98 L531.90,981.90 L532.11,981.83 L532.33,981.75 L532.54,981.68 L532.76,981.61 L532.97,981.53 L533.19,981.46 L533.40,981.39 L533.62,981.32 L533.83,981.26 L534.04,981.19 L534.26,981.12 L534.47,981.06 L534.69,980.99 L534.90,980.93 L535.12,980.86 L535.33,980.80 L535.55,980.74 L535.76,980.68 L535.98,980.62 L536.19,980.56 L536.40,980.50 L536.62,980.44 L536.83,980.39 L537.05,980.33 L537.26,980.28 L537.48,980.22 L537.69,980.17 L537.91,980.11 L538.12,980.06 L538.34,980.01 L538.55,979.96 L538.77,979.91 L538.98,979.86 L539.19,979.81 L539.41,979.76 L539.62,979.71 L539.84,979.66 L540.05,979.61 L540.27,979.57 L540.48,979.52 L540.70,979.48 L540.91,979.43 L541.13,979.39 L541.34,979.34 L541.55,979.30 L541.77,979.26 L541.98,979.21 L542.20,979.17 L542.41,979.13 L542.63,979.09 L542.84,979.05 L543.06,979.01 L543.27,978.97 L543.49,978.93 L543.70,978.90 L543.92,978.86 L544.13,978.82 L544.34,978.78 L544.56,978.75 L544.77,978.71 L544.99,978.68 L545.20,978.64 L545.42,978.61 L545.63,978.57 L545.85,978.54 L546.06,978.51 L546.28,978.47 L546.49,978.44 L546.71,978.41 L546.92,978.38 L547.13,978.35 L547.35,978.32 L547.56,978.29 L547.78,978.26 L547.99,978.23 L548.21,978.20 L548.42,978.17 L548.64,978.14 L548.85,978.11 L549.07,978.09 L549.28,978.06 L549.49,978.03 L549.71,978.00 L549.92,977.98 L550.14,977.95 L550.35,977.93 L550.57,977.90 L550.78,977.88 L551.00,977.85 L551.21,977.83 L551.43,977.80 L551.64,977.78 L551.86,977.75 L552.07,977.73 L552.28,977.71 L552.50,977.69 L552.71,977.66 L552.93,977.64 L553.14,977.62 L553.36,977.60 L553.57,977.58 L553.79,977.56 L554.00,977.53 L554.22,977.51 L554.43,977.49 L554.64,977.47 L554.86,977.45 L555.07,977.43 L558.86,977.13 L562.64,976.88 L566.42,976.69 L570.20,976.53 L573.98,976.41 L577.77,976.31 L581.55,976.23 L585.33,976.16 L589.11,976.11 L592.90,976.07 L596.68,976.04 L600.46,976.01 L604.24,975.99 L608.02,975.97 L611.81,975.96 L615.59,975.95 L619.37,975.94 L623.15,975.93 L626.93,975.93 L630.72,975.92 L634.50,975.92 L638.28,975.92 L642.06,975.91 L645.84,975.91 L649.63,975.91 L653.41,975.91 L657.19,975.91 L660.97,975.91 L664.76,975.91 L668.54,975.91 L672.32,975.91 L676.10,975.91 L679.88,975.91 L683.67,975.91 L687.45,975.91 L691.23,975.90 L695.01,975.90 L698.79,975.90 L702.58,975.90 L706.36,975.90 L710.14,975.90 L713.92,975.90 L717.71,975.90 L721.49,975.90 L725.27,975.90 L729.05,975.90 L732.83,975.90 L736.62,975.90 L740.40,975.90 L744.18,975.90 L747.96,975.90 L751.74,975.90 L755.53,975.90 L759.31,975.90 L763.09,975.90 L766.87,975.90 L770.65,975.90 L774.44,975.90 L778.22,975.90 L782.00,975.90 L785.78,975.90 L789.57,975.90 L793.35,975.90 L797.13,975.90 L800.91,975.90 L804.69,975.90 L808.48,975.90 L812.26,975.90 L816.04,975.90 L819.82,975.90 L823.60,975.90 L827.39,975.90 L831.17,975.90 L834.95,975.90 L838.73,975.90 L842.52,975.90 L846.30,975.90 L850.08,975.90 L853.86,975.90 L857.64,975.90 L861.43,975.90 L865.21,975.90 L868.99,975.90 L872.77,975.90 L876.55,975.90 L880.34,975.90 L884.12,975.90 L887.90,975.90 L891.68,975.90 L895.46,975.90 L899.25,975.90 L903.03,975.90 L906.81,975.90 L910.59,975.90 L914.38,975.90 L918.16,975.90 L921.94,975.90 L925.72,975.90 L929.50,975.90" fill="none" stroke="#000" stroke-width="4.35" stroke-linejoin="round" stroke-linecap="butt"/>
<circle cx="469.49" cy="1139.91" r="5.6" fill="#000000"/>
<circle cx="533.68" cy="994.31" r="5.6" fill="#000000"/>
<circle cx="597.87" cy="1030.98" r="5.6" fill="#000000"/>
<circle cx="662.05" cy="923.87" r="5.6" fill="#000000"/>
<circle cx="726.24" cy="979.00" r="5.6" fill="#000000"/>
<circle cx="790.43" cy="981.30" r="5.6" fill="#000000"/>
<rect x="145.0" y="740.1" width="190.00" height="131.65" fill="#fff"/>
<circle cx="167.5" cy="805.0" r="4.75" fill="#3b528b"/>
<circle cx="167.5" cy="825.9" r="4.75" fill="#28ae80"/>
<circle cx="167.5" cy="847.0" r="4.75" fill="#fde725"/>
<rect x="112.0" y="698.95" width="856.0" height="538.40" fill="none" stroke="#333333" stroke-width="2.2"/>
<line x1="104.5" y1="1213.50" x2="112.0" y2="1213.50" stroke="#333333" stroke-width="2.6"/>
<line x1="104.5" y1="1090.78" x2="112.0" y2="1090.78" stroke="#333333" stroke-width="2.6"/>
<line x1="104.5" y1="968.05" x2="112.0" y2="968.05" stroke="#333333" stroke-width="2.6"/>
<line x1="104.5" y1="845.33" x2="112.0" y2="845.33" stroke="#333333" stroke-width="2.6"/>
<line x1="104.5" y1="722.60" x2="112.0" y2="722.60" stroke="#333333" stroke-width="2.6"/>
<line x1="148.55" y1="1237.35" x2="148.55" y2="1244.55" stroke="#333333" stroke-width="2.6"/>
<line x1="343.79" y1="1237.35" x2="343.79" y2="1244.55" stroke="#333333" stroke-width="2.6"/>
<line x1="539.03" y1="1237.35" x2="539.03" y2="1244.55" stroke="#333333" stroke-width="2.6"/>
<line x1="734.27" y1="1237.35" x2="734.27" y2="1244.55" stroke="#333333" stroke-width="2.6"/>
<line x1="929.50" y1="1237.35" x2="929.50" y2="1244.55" stroke="#333333" stroke-width="2.6"/>
<g filter="url(#gs)">
<text transform="translate(0.30,27.90) scale(1,1.044)" font-size="33.0">A</text>
<text transform="translate(0.10,693.70) scale(1,1.044)" font-size="33.0">B</text>
<text transform="translate(160.60,122.00) scale(1,1.044)" font-size="27.5">D</text>
<text x="180.46" y="122.00" font-size="27.5">ata source</text>
<text transform="translate(189.30,157.70) scale(1,1.044)" font-size="22.3">B</text>
<text x="204.17" y="157.70" font-size="22.3">en</text>
<rect x="230.54" y="151.55" width="11.15" height="1.61" fill="#000"/>
<text transform="translate(242.00,157.70) scale(1,1.044)" font-size="22.3">M</text>
<text x="260.58" y="157.70" font-size="22.3">oussa</text>
<text transform="translate(189.30,178.60) scale(1,1.044)" font-size="22.3">C</text>
<text x="205.40" y="178.60" font-size="22.3">ornara</text>
<text x="56.18" y="556.00" font-size="22.0">0.00</text>
<text x="56.18" y="433.27" font-size="22.0">0.25</text>
<text x="56.18" y="309.55" font-size="22.0">0.50</text>
<text x="56.18" y="186.83" font-size="22.0">0.75</text>
<text x="56.18" y="65.10" font-size="22.0">&#8199;.00</text>
<path d="M63.33,65.10 L63.33,50.10 L62.61,49.81 L61.95,49.81 L60.69,51.79 Q59.92,52.82 57.94,52.89 L57.94,54.06 L61.44,54.06 L61.44,65.10 Z" fill="#000" stroke="#000" stroke-width="0.3"/>
<text x="142.43" y="600.95" font-size="22.0">0</text>
<text x="331.55" y="600.95" font-size="22.0">9&#8199;</text>
<path d="M350.94,600.95 L350.94,585.95 L350.21,585.66 L349.55,585.66 L348.30,587.64 Q347.53,588.67 345.55,588.74 L345.55,589.91 L349.05,589.91 L349.05,600.95 Z" fill="#000" stroke="#000" stroke-width="0.3"/>
<text x="520.67" y="600.95" font-size="22.0">&#8199;82</text>
<path d="M527.82,600.95 L527.82,585.95 L527.10,585.66 L526.44,585.66 L525.18,587.64 Q524.41,588.67 522.43,588.74 L522.43,589.91 L525.93,589.91 L525.93,600.95 Z" fill="#000" stroke="#000" stroke-width="0.3"/>
<text x="715.91" y="600.95" font-size="22.0">274</text>
<text x="911.15" y="600.95" font-size="22.0">365</text>
<text transform="translate(445.76,632.90) scale(1,1.044)" font-size="27.5">D</text>
<text x="465.62" y="632.90" font-size="27.5">ay of the year</text>
<g transform="translate(42.6,302.15) rotate(-90)"><text transform="translate(-196.24,0.00) scale(1,1.044)" font-size="27.8">R</text>
<text x="-176.17" y="0.00" font-size="27.8">elative density of adult vectors</text></g>
<text transform="translate(160.60,778.00) scale(1,1.044)" font-size="27.5">D</text>
<text x="180.46" y="778.00" font-size="27.5">ata source</text>
<text transform="translate(189.30,812.70) scale(1,1.044)" font-size="22.3">B</text>
<text x="204.17" y="812.70" font-size="22.3">en</text>
<rect x="230.54" y="806.55" width="11.15" height="1.61" fill="#000"/>
<text transform="translate(242.00,812.70) scale(1,1.044)" font-size="22.3">M</text>
<text x="260.58" y="812.70" font-size="22.3">oussa</text>
<text transform="translate(189.30,833.60) scale(1,1.044)" font-size="22.3">C</text>
<text x="205.40" y="833.60" font-size="22.3">ornara </text>
<text transform="translate(276.06,833.60) scale(1,1.044)" font-size="22.3">JPS</text>
<text transform="translate(189.30,854.40) scale(1,1.044)" font-size="22.3">C</text>
<text x="205.40" y="854.40" font-size="22.3">ornara </text>
<text transform="translate(276.06,854.40) scale(1,1.044)" font-size="22.3">JAE</text>
<text x="56.18" y="1222.10" font-size="22.0">0.00</text>
<text x="56.18" y="1099.38" font-size="22.0">0.25</text>
<text x="56.18" y="975.65" font-size="22.0">0.50</text>
<text x="56.18" y="852.93" font-size="22.0">0.75</text>
<text x="56.18" y="731.20" font-size="22.0">&#8199;.00</text>
<path d="M63.33,731.20 L63.33,716.20 L62.61,715.91 L61.95,715.91 L60.69,717.89 Q59.92,718.92 57.94,718.99 L57.94,720.16 L61.44,720.16 L61.44,731.20 Z" fill="#000" stroke="#000" stroke-width="0.3"/>
<text x="142.43" y="1266.95" font-size="22.0">0</text>
<text x="331.55" y="1266.95" font-size="22.0">9&#8199;</text>
<path d="M350.94,1266.95 L350.94,1251.95 L350.21,1251.66 L349.55,1251.66 L348.30,1253.64 Q347.53,1254.67 345.55,1254.74 L345.55,1255.91 L349.05,1255.91 L349.05,1266.95 Z" fill="#000" stroke="#000" stroke-width="0.3"/>
<text x="520.67" y="1266.95" font-size="22.0">&#8199;82</text>
<path d="M527.82,1266.95 L527.82,1251.95 L527.10,1251.66 L526.44,1251.66 L525.18,1253.64 Q524.41,1254.67 522.43,1254.74 L522.43,1255.91 L525.93,1255.91 L525.93,1266.95 Z" fill="#000" stroke="#000" stroke-width="0.3"/>
<text x="715.91" y="1266.95" font-size="22.0">274</text>
<text x="911.15" y="1266.95" font-size="22.0">365</text>
<text transform="translate(445.76,1298.90) scale(1,1.044)" font-size="27.5">D</text>
<text x="465.62" y="1298.90" font-size="27.5">ay of the year</text>
<g transform="translate(42.6,968.15) rotate(-90)"><text transform="translate(-197.01,0.00) scale(1,1.044)" font-size="27.8">E</text>
<text x="-178.47" y="0.00" font-size="27.8">simtated prevalence in vectors</text></g>
</g>
</g>
</svg>
</body></html>
